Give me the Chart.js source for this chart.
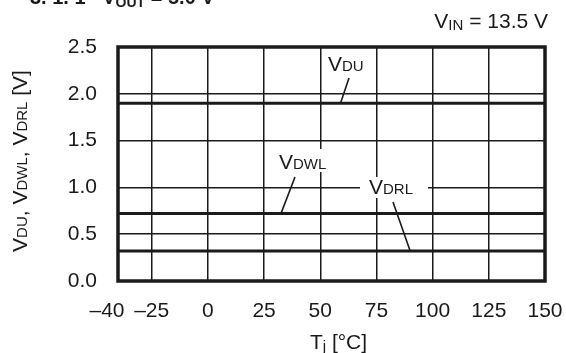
<!DOCTYPE html>
<html>
<head>
<meta charset="utf-8">
<script src="https://cdn.jsdelivr.net/npm/chart.js@4"></script>
<style>
  html, body { margin: 0; padding: 0; background: #fff; }
  #wrap { width: 566px; height: 353px; }
</style>
</head>
<body>
<div id="wrap"><canvas id="chart" width="566" height="353"></canvas></div>
<script>
// junction temperature sweep, °C
const temps = [-40, 150];
// drop-out voltages, V
const vdu = [1.90, 1.90];
const vdwl = [0.72, 0.72];
const vdrl = [0.32, 0.32];

const xTicks = [-40, -25, 0, 25, 50, 75, 100, 125, 150];
const yTicks = [0, 0.5, 1.0, 1.5, 2.0, 2.5];

const FONT = '"Liberation Sans", Arial, sans-serif';
const INK = '#1a1a1a';

function pts(vals) {
    return temps.map((t, i) => ({ x: t, y: vals[i] }));
}

// pieces are [text, size, drop, weight]
function runWidth(ctx, parts) {
    let w = 0;
    parts.forEach(p => {
        ctx.font = (p[3] || '') + p[1] + 'px ' + FONT;
        w += ctx.measureText(p[0]).width;
    });
    return w;
}
function drawRun(ctx, x, y, parts) {
    parts.forEach(p => {
        ctx.font = (p[3] || '') + p[1] + 'px ' + FONT;
        ctx.fillText(p[0], x, y + (p[2] || 0));
        x += ctx.measureText(p[0]).width;
    });
}

const textPlugin = {
    id: 'texts',
    afterDraw(chart) {
        const ctx = chart.ctx;
        const a = chart.chartArea;
        const xs = chart.scales.x;
        const ys = chart.scales.y;
        ctx.save();
        ctx.fillStyle = INK;
        ctx.strokeStyle = INK;
        ctx.textBaseline = 'alphabetic';
        ctx.textAlign = 'left';

        // x tick labels (the -40 one sits a bit to the left)
        ctx.font = '21px ' + FONT;
        ctx.textAlign = 'center';
        xTicks.forEach((v, i) => {
            const lbl = v < 0 ? '\u2013' + Math.abs(v) : String(v);
            const shift = i === 0 ? -11 : 0;
            ctx.fillText(lbl, xs.getPixelForValue(v) + shift, a.bottom + 36);
        });
        ctx.textAlign = 'left';

        // x title
        let parts = [['T', 21], ['j', 15, 2], [' [\u00b0C]', 21]];
        let w = runWidth(ctx, parts);
        drawRun(ctx, (a.left + a.right) / 2 - w / 2 + 7, 349, parts);

        // y title, rotated
        parts = [['V', 21], ['DU', 15], [', V', 21], ['DWL', 15], [', V', 21], ['DRL', 15], [' [V]', 21]];
        w = runWidth(ctx, parts);
        ctx.save();
        ctx.translate(27, 161);
        ctx.rotate(-Math.PI / 2);
        drawRun(ctx, -w / 2, 0, parts);
        ctx.restore();

        // condition note
        parts = [['V', 21], ['IN', 15, 2], [' = 13.5 V', 21]];
        w = runWidth(ctx, parts);
        drawRun(ctx, 548 - w, 28, parts);

        // clipped heading at the very top
        parts = [['3. 1. 1   V', 20, 0, 'bold '], ['OUT', 14, 3, 'bold '], [' = 5.0 V', 20, 0, 'bold ']];
        drawRun(ctx, 30, 4, parts);

        // curve labels with leader lines
        const labels = [
            { parts: [['V', 21], ['DU', 15]], x: 328, y: 71, box: false, from: [349, 78], to: [59, vdu[0]] },
            { parts: [['V', 21], ['DWL', 15]], x: 279, y: 169, box: [276, 149, 58, 23], from: [295, 177], to: [32.5, vdwl[0]] },
            { parts: [['V', 21], ['DRL', 15]], x: 369, y: 194, box: [360, 177, 68, 21], from: [393, 202], to: [90, vdrl[0]] }
        ];
        labels.forEach(l => {
            if (l.box) {
                ctx.fillStyle = '#fff';
                ctx.fillRect(l.box[0], l.box[1], l.box[2], l.box[3]);
                ctx.fillStyle = INK;
            }
            drawRun(ctx, l.x, l.y, l.parts);
            ctx.beginPath();
            ctx.lineWidth = 1.6;
            ctx.moveTo(l.from[0], l.from[1]);
            ctx.lineTo(xs.getPixelForValue(l.to[0]), ys.getPixelForValue(l.to[1]));
            ctx.stroke();
        });

        // heavy frame
        ctx.lineWidth = 3.5;
        ctx.strokeRect(a.left, a.top, a.right - a.left, a.bottom - a.top);
        ctx.restore();
    }
};

const lineStyle = { borderColor: INK, borderWidth: 3, pointRadius: 0, fill: false, tension: 0 };

new Chart(document.getElementById('chart'), {
    type: 'line',
    data: {
        datasets: [
            Object.assign({ label: 'VDU', data: pts(vdu) }, lineStyle),
            Object.assign({ label: 'VDWL', data: pts(vdwl) }, lineStyle),
            Object.assign({ label: 'VDRL', data: pts(vdrl) }, lineStyle)
        ]
    },
    options: {
        responsive: false,
        animation: false,
        layout: { padding: { top: 47, right: 21, left: 0, bottom: 0 } },
        plugins: { legend: { display: false }, tooltip: { enabled: false } },
        scales: {
            x: {
                type: 'linear',
                min: -40,
                max: 150,
                afterBuildTicks: s => { s.ticks = xTicks.map(v => ({ value: v })); },
                afterFit: s => { s.height = 72; },
                ticks: { display: false },
                grid: { color: INK, lineWidth: 1.5, drawTicks: false },
                border: { display: false }
            },
            y: {
                min: 0,
                max: 2.5,
                afterBuildTicks: s => { s.ticks = yTicks.map(v => ({ value: v })); },
                afterFit: s => { s.width = 118; },
                ticks: {
                    callback: v => v.toFixed(1),
                    font: { family: FONT, size: 21 },
                    color: INK,
                    padding: 21
                },
                grid: { color: INK, lineWidth: 1.5, drawTicks: false },
                border: { display: false }
            }
        }
    },
    plugins: [textPlugin]
});
</script>
</body>
</html>
